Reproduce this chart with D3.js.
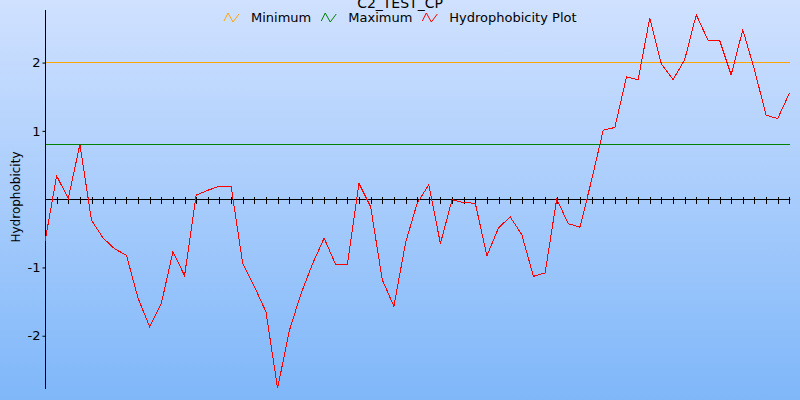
<!DOCTYPE html>
<html>
<head>
<meta charset="utf-8">
<script src="https://cdn.jsdelivr.net/npm/d3@7"></script>
<style>
html,body{margin:0;padding:0;background:#fff;}
svg{display:block;font-family:"DejaVu Sans",sans-serif;}
</style>
</head>
<body>
<svg id="chart" width="800" height="400"></svg>
<script>
const title = "C2_TEST_CP";
const yLabel = "Hydrophobicity";
const seriesNames = ["Minimum", "Maximum", "Hydrophobicity Plot"];
const seriesColors = ["#ffa500", "#008000", "#ff0000"];
const minimumValue = 2.0;
const maximumValue = 0.8;
const hydro = [
  -0.62, 0.34, 0.01, 0.80, -0.31, -0.57, -0.73, -0.82, -1.45, -1.87,
  -1.53, -0.77, -1.12, 0.06, 0.13, 0.19, 0.19, -0.94, -1.28, -1.65,
  -2.77, -1.93, -1.39, -0.95, -0.57, -0.96, -0.96, 0.23, -0.11, -1.18,
  -1.57, -0.64, -0.06, 0.21, -0.65, -0.01, -0.05, -0.06, -0.83, -0.42,
  -0.26, -0.52, -1.13, -1.08, 0.00, -0.36, -0.41, 0.28, 1.01, 1.05,
  1.79, 1.75, 2.65, 1.98, 1.75, 2.04, 2.70, 2.33, 2.33, 1.82,
  2.48, 1.90, 1.23, 1.18, 1.55
];
const yTickValues = [-2, -1, 1, 2];
const yTickLabels = ["-2", "-1", "1", "2"];

const svg = d3.select("#chart");
const defs = svg.append("defs");
const grad = defs.append("linearGradient").attr("id", "bg")
  .attr("x1", 0).attr("y1", 0).attr("x2", 0).attr("y2", 1);
grad.append("stop").attr("offset", "0%").attr("stop-color", "#d0e1ff");
grad.append("stop").attr("offset", "100%").attr("stop-color", "#7fb7f9");
svg.append("rect").attr("width", 800).attr("height", 400).attr("fill", "url(#bg)");

const pLeft = 45, pRight = 789.3, pTop = 10, pBottom = 389;
const x = d3.scaleLinear().domain([0, hydro.length - 1]).range([pLeft, pRight]);
const y = d3.scaleLinear().domain([-2.78, 2.77]).range([pBottom, pTop]);

// reference lines
[[minimumValue, seriesColors[0]], [maximumValue, seriesColors[1]]].forEach(([v, c]) => {
  svg.append("rect")
    .attr("x", Math.round(x(0)) + 1).attr("width", Math.round(x(hydro.length - 1)) - Math.round(x(0)))
    .attr("y", Math.floor(y(v))).attr("height", 1)
    .attr("fill", c).attr("shape-rendering", "crispEdges");
});

// zero axis with ticks
const y0 = Math.floor(y(0)) + 0.5;
const xAxis = d3.axisBottom(x).tickValues(d3.range(1, hydro.length)).tickSize(0).tickFormat("");
const xg = svg.append("g").attr("transform", `translate(0,${y0})`).call(xAxis);
xg.select(".domain").attr("stroke", "#000").attr("d", `M${pLeft},0H${pRight + 1}`);
xg.selectAll(".tick line").attr("stroke", "#000").attr("y1", -3).attr("y2", 4)
  .attr("shape-rendering", "crispEdges");

// y axis
const yAxis = d3.axisLeft(y).tickValues(yTickValues).tickFormat((d, i) => yTickLabels[i]).tickSize(3).tickPadding(2);
const yg = svg.append("g").attr("transform", `translate(${pLeft + 0.5},0)`).call(yAxis);
yg.select(".domain").attr("d", `M0,${pTop}V${pBottom}`).attr("stroke", "#000");
yg.selectAll(".tick line").attr("stroke", "#000");
yg.selectAll(".tick text").attr("font-size", 13).attr("font-family", "DejaVu Sans").attr("fill", "#000");

// data line
const line = d3.line().x((d, i) => x(i)).y(d => y(d));
svg.append("path").datum(hydro).attr("d", line).attr("fill", "none")
  .attr("stroke", seriesColors[2]).attr("stroke-width", 1).attr("shape-rendering", "crispEdges");

// y label
svg.append("text").attr("transform", "translate(20,197) rotate(-90)")
  .attr("text-anchor", "middle").attr("font-size", 12).attr("fill", "#000").text(yLabel);

// title
svg.append("text").attr("x", 400).attr("y", 8).attr("text-anchor", "middle")
  .attr("font-size", 14).attr("fill", "#000").text(title);

// legend
const lg = svg.append("g");
let cx = 0;
seriesNames.forEach((name, i) => {
  const g = lg.append("g");
  g.append("polyline").attr("points", "0,9 4,1 9,10 15,2")
    .attr("fill", "none").attr("stroke", seriesColors[i]).attr("stroke-width", 1);
  const t = g.append("text").attr("x", 27).attr("y", 10).attr("font-size", 13).attr("fill", "#000").text(name);
  const w = 27 + t.node().getComputedTextLength();
  g.attr("transform", `translate(${cx},12)`);
  cx += w + 10;
});
const totalW = cx - 10;
lg.attr("transform", `translate(${Math.round(400 - totalW / 2)},0)`);
</script>
</body>
</html>
